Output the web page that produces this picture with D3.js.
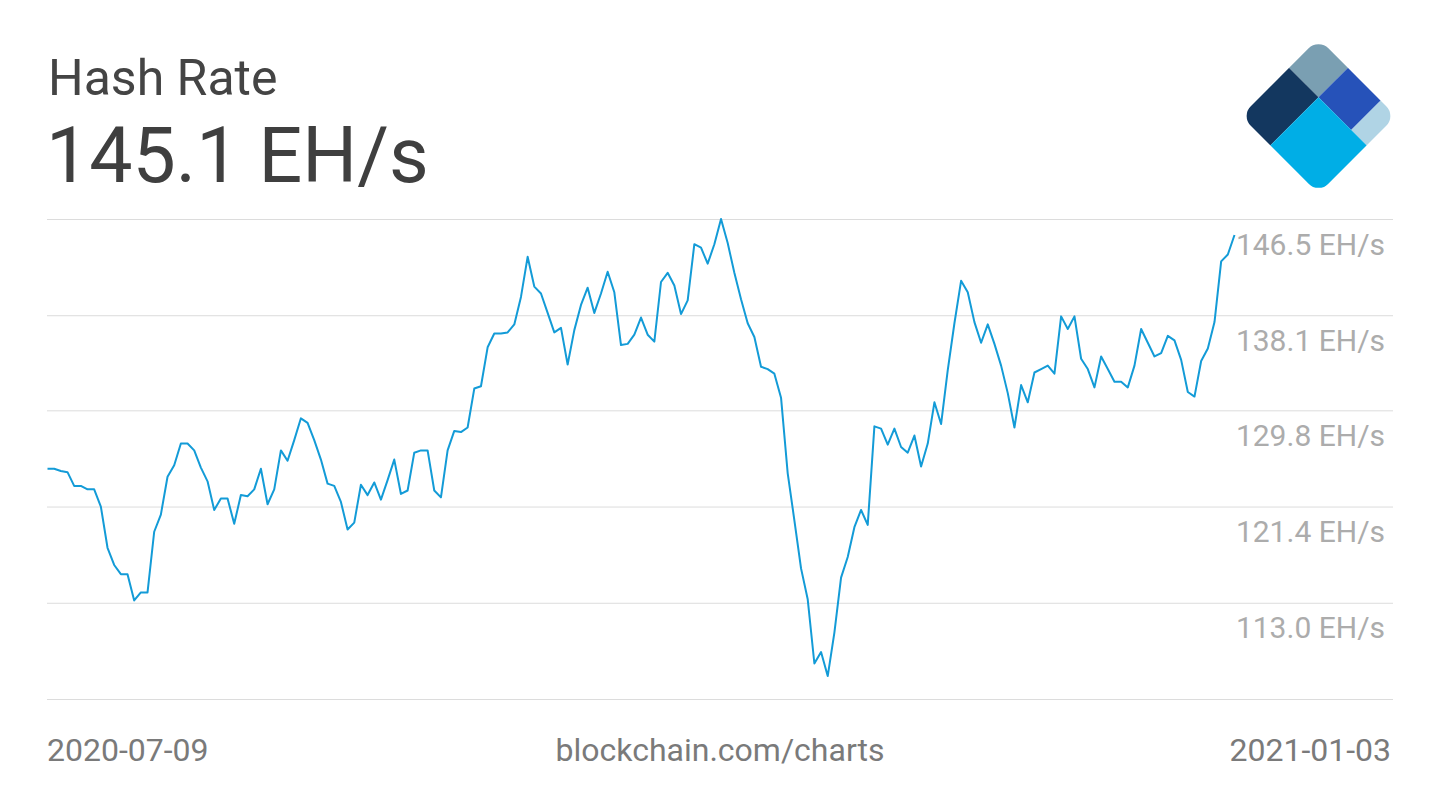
<!DOCTYPE html>
<html>
<head>
<meta charset="utf-8">
<script src="https://cdn.jsdelivr.net/npm/d3@7"></script>
<style>
    body { margin: 0; background: #fff; }
    svg { display: block; font-family: Roboto, "Noto Sans", sans-serif; }
</style>
</head>
<body>
<script>
const width = 1440;
const height = 810;

// Daily hash rate, EH/s, from 2020-07-09 to 2021-01-03
const startDate = "2020-07-09";
const endDate = "2021-01-03";
const hashRate = [
    124.7, 124.7, 124.5, 124.4, 123.2, 123.2, 122.9, 122.9, 121.4, 117.8,
    116.3, 115.5, 115.5, 113.2, 113.9, 113.9, 119.2, 120.7, 124.0, 125.0,
    126.9, 126.9, 126.3, 124.8, 123.6, 121.1, 122.1, 122.1, 119.9, 122.4,
    122.3, 122.9, 124.7, 121.6, 122.9, 126.3, 125.4, 127.2, 129.1, 128.7,
    127.2, 125.5, 123.4, 123.2, 121.8, 119.4, 120.0, 123.3, 122.4, 123.5,
    122.0, 123.7, 125.5, 122.5, 122.8, 126.1, 126.3, 126.3, 122.8, 122.2,
    126.3, 128.0, 127.9, 128.3, 131.7, 131.9, 135.3, 136.5, 136.5, 136.6,
    137.3, 139.7, 143.2, 140.6, 140.0, 138.3, 136.6, 137.0, 133.8, 136.8,
    139.0, 140.5, 138.3, 140.0, 141.9, 140.1, 135.5, 135.6, 136.4, 137.9,
    136.4, 135.8, 141.0, 141.8, 140.7, 138.2, 139.4, 144.3, 144.0, 142.6,
    144.3, 146.5, 144.4, 141.8, 139.5, 137.4, 136.2, 133.6, 133.4, 133.0,
    130.9, 124.3, 120.2, 116.0, 113.3, 107.7, 108.7, 106.6, 110.4, 115.2,
    117.0, 119.6, 121.1, 119.8, 128.4, 128.2, 126.8, 128.2, 126.6, 126.1,
    127.6, 124.9, 126.9, 130.5, 128.6, 133.3, 137.4, 141.1, 140.1, 137.5,
    135.7, 137.3, 135.6, 133.7, 131.3, 128.3, 132.0, 130.5, 133.1, 133.4,
    133.7, 133.0, 138.0, 136.9, 138.0, 134.3, 133.4, 131.8, 134.5, 133.4,
    132.3, 132.3, 131.8, 133.7, 136.9, 135.7, 134.5, 134.8, 136.3, 135.9,
    134.2, 131.4, 131.0, 134.1, 135.2, 137.5, 142.8, 143.4, 145.1
];

// Gridline values; all but the last one get a label
const gridValues = [146.5, 138.1, 129.8, 121.4, 113.0, 104.6];
const tickLabels = ["146.5 EH/s", "138.1 EH/s", "129.8 EH/s", "121.4 EH/s", "113.0 EH/s"];

const title = "Hash Rate";
const currentValue = "145.1 EH/s";
const source = "blockchain.com/charts";

let parseDate = d3.timeParse("%Y-%m-%d");
let start = parseDate(startDate);
let data = hashRate.map((v, i) => ({date: d3.timeDay.offset(start, i), value: v}));

let svg = d3.select("body")
    .append("svg")
    .attr("width", width)
    .attr("height", height);

let xScale = d3.scaleTime()
    .domain([start, parseDate(endDate)])
    .range([47.5, 1234.5]);

let yScale = d3.scaleLinear()
    .domain([104.6, 146.5])
    .range([699, 219]);

// Gridlines + labels from a right axis whose ticks reach back to the left edge
let gridRight = 1393;
let grid = svg.append("g")
    .attr("transform", `translate(${gridRight}, 0)`)
    .call(d3.axisRight(yScale)
        .tickValues(gridValues)
        .tickSize(-(gridRight - 47))
        .tickFormat((d, i) => tickLabels[i] || ""));

grid.select(".domain").remove();
grid.selectAll(".tick line")
    .attr("stroke", "#dcdcdc")
    .attr("stroke-width", 1);
grid.selectAll(".tick text")
    .attr("x", -8)
    .attr("dy", 35)
    .attr("text-anchor", "end")
    .attr("fill", "#acacac")
    .attr("font-size", 30)
    .attr("font-family", "Roboto");

// The line itself
svg.append("path")
    .datum(data)
    .attr("fill", "none")
    .attr("stroke", "#139bd7")
    .attr("stroke-width", 2)
    .attr("stroke-linejoin", "round")
    .attr("d", d3.line()
        .x(d => xScale(d.date))
        .y(d => yScale(d.value)));

// Header
svg.append("text")
    .attr("x", 48)
    .attr("y", 95)
    .attr("fill", "#444")
    .attr("font-size", 50)
    .text(title);

svg.append("text")
    .attr("x", 46)
    .attr("y", 182)
    .attr("fill", "#3f3f3f")
    .attr("font-size", 77)
    .text(currentValue);

// Footer
let footer = svg.append("g")
    .attr("fill", "#7a7a7a")
    .attr("font-size", 32);
footer.append("text")
    .attr("x", 47)
    .attr("y", 761)
    .text(startDate);
footer.append("text")
    .attr("x", 720)
    .attr("y", 761)
    .attr("text-anchor", "middle")
    .text(source);
footer.append("text")
    .attr("x", 1391)
    .attr("y", 761)
    .attr("text-anchor", "end")
    .text(endDate);

// Logo: rounded square turned 45 degrees, split into five tiles
let logoTiles = [
    {x: -50, y: -50, w: 38, h: 38, fill: "#7a9fb2"},
    {x: -50, y: -12, w: 38, h: 62, fill: "#13375f"},
    {x: -12, y: -50, w: 42, h: 38, fill: "#2652b9"},
    {x: 30, y: -50, w: 20, h: 38, fill: "#b0d4e5"},
    {x: -12, y: -12, w: 62, h: 62, fill: "#00aee6"}
];

let defs = svg.append("defs");
defs.append("clipPath")
    .attr("id", "logo-clip")
    .append("rect")
    .attr("x", -50).attr("y", -50)
    .attr("width", 100).attr("height", 100)
    .attr("rx", 13);

svg.append("g")
    .attr("transform", "translate(1318.5, 116) rotate(45) scale(1.1)")
    .attr("clip-path", "url(#logo-clip)")
    .selectAll("rect")
    .data(logoTiles)
    .join("rect")
    .attr("x", d => d.x)
    .attr("y", d => d.y)
    .attr("width", d => d.w)
    .attr("height", d => d.h)
    .attr("fill", d => d.fill);
</script>
</body>
</html>
